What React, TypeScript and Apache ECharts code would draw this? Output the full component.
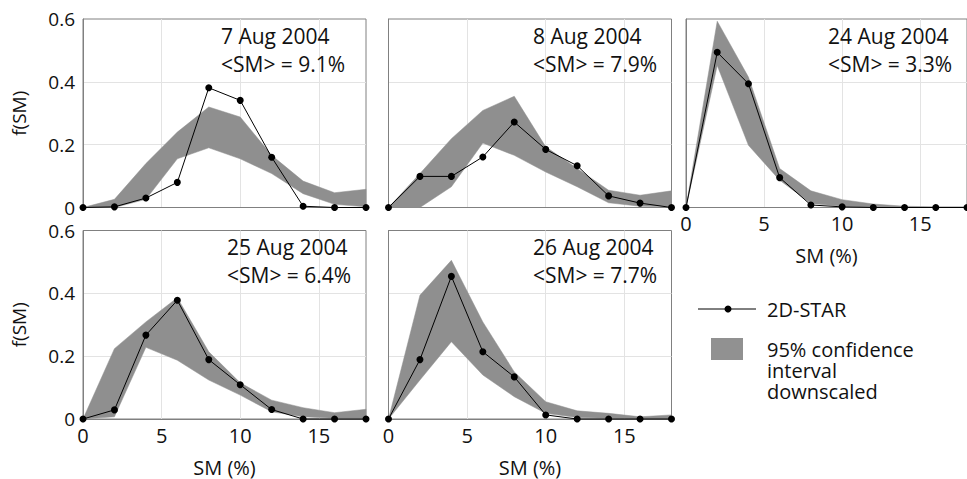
import React, { useEffect, useRef } from "react";
import * as echarts from "echarts";

// SM bin centres (%)
const smBins = [0, 2, 4, 6, 8, 10, 12, 14, 16, 18];

const panelDates = ["7 Aug 2004", "8 Aug 2004", "24 Aug 2004", "25 Aug 2004", "26 Aug 2004"];
const panelMeans = ["<SM> = 9.1%", "<SM> = 7.9%", "<SM> = 3.3%", "<SM> = 6.4%", "<SM> = 7.7%"];

// 2D-STAR f(SM)
const star7Aug = [0, 0.002, 0.03, 0.08, 0.381, 0.341, 0.16, 0.004, 0, 0];
const star8Aug = [0, 0.099, 0.099, 0.161, 0.272, 0.185, 0.133, 0.037, 0.014, 0];
const star24Aug = [0, 0.494, 0.394, 0.095, 0.008, 0.002, 0, 0, 0, 0];
const star25Aug = [0, 0.029, 0.267, 0.378, 0.189, 0.109, 0.03, 0, 0, 0];
const star26Aug = [0, 0.189, 0.454, 0.214, 0.134, 0.013, 0, 0, 0, 0];

// 95% confidence interval (downscaled): upper bounds
const upper7Aug = [0, 0.026, 0.14, 0.24, 0.32, 0.288, 0.166, 0.084, 0.047, 0.058];
const upper8Aug = [0, 0.108, 0.219, 0.309, 0.354, 0.193, 0.124, 0.055, 0.039, 0.053];
const upper24Aug = [0, 0.593, 0.415, 0.124, 0.053, 0.025, 0.011, 0.004, 0.002, 0.002];
const upper25Aug = [0, 0.224, 0.309, 0.386, 0.214, 0.115, 0.06, 0.036, 0.02, 0.031];
const upper26Aug = [0, 0.394, 0.505, 0.309, 0.15, 0.055, 0.026, 0.018, 0.007, 0.013];

// lower bounds
const lower7Aug = [0, 0, 0.026, 0.155, 0.19, 0.155, 0.108, 0.044, 0.01, 0.002];
const lower8Aug = [0, 0, 0.066, 0.205, 0.166, 0.113, 0.066, 0.015, 0.004, 0.002];
const lower24Aug = [0, 0.452, 0.198, 0.087, 0.013, 0.004, 0, 0, 0, 0];
const lower25Aug = [0, 0.007, 0.228, 0.187, 0.124, 0.076, 0.023, 0.007, 0.002, 0.002];
const lower26Aug = [0, 0.124, 0.246, 0.14, 0.071, 0.018, 0.005, 0.002, 0, 0];

const xTicks = { min: 0, max: 18, interval: 5 };
const yTicks = { min: 0, max: 0.6, interval: 0.2 };

const FONT = "'Open Sans', 'Noto Sans', sans-serif";
const TEXT = "#111";
const FRAME = "#808080";
const GRIDLINE = "#e3e3e3";
const BAND = "#8f8f8f";

const panels = [
  { star: star7Aug, upper: upper7Aug, lower: lower7Aug, left: 83, top: 19, yLabels: true, xLabels: false, textX: 221 },
  { star: star8Aug, upper: upper8Aug, lower: lower8Aug, left: 388.5, top: 19, yLabels: false, xLabels: false, textX: 533 },
  { star: star24Aug, upper: upper24Aug, lower: lower24Aug, left: 686, top: 19, yLabels: false, xLabels: true, textX: 828 },
  { star: star25Aug, upper: upper25Aug, lower: lower25Aug, left: 83, top: 230.5, yLabels: true, xLabels: true, textX: 227 },
  { star: star26Aug, upper: upper26Aug, lower: lower26Aug, left: 388.5, top: 230.5, yLabels: false, xLabels: true, textX: 533 },
];

const PW = 283;
const PH = 188.5;

export default function App() {
  const ref = useRef<HTMLDivElement>(null);
  useEffect(() => {
    if (!ref.current) return;
    const chart = echarts.init(ref.current, null, { renderer: "svg" });
    const grid: any[] = [];
    const xAxis: any[] = [];
    const yAxis: any[] = [];
    const series: any[] = [];
    const graphic: any[] = [];

    panels.forEach((p, i) => {
      grid.push({
        left: p.left,
        top: p.top,
        width: PW,
        height: PH,
        show: true,
        borderColor: FRAME,
        borderWidth: 1,
        backgroundColor: "transparent",
      });
      xAxis.push({
        type: "value",
        gridIndex: i,
        min: xTicks.min,
        max: xTicks.max,
        interval: xTicks.interval,
        name: p.xLabels ? "SM (%)" : "",
        nameLocation: "middle",
        nameGap: 38,
        nameTextStyle: { fontFamily: FONT, fontSize: 20, color: TEXT },
        axisLine: { show: true, lineStyle: { color: FRAME, width: 1 } },
        axisTick: { show: false },
        axisLabel: {
          show: p.xLabels,
          showMaxLabel: false,
          margin: 6,
          fontFamily: FONT,
          fontSize: 20,
          color: TEXT,
        },
        splitLine: { show: true, showMinLine: false, showMaxLine: false, lineStyle: { color: GRIDLINE, width: 1 } },
      });
      yAxis.push({
        type: "value",
        gridIndex: i,
        min: yTicks.min,
        max: yTicks.max,
        interval: yTicks.interval,
        name: p.yLabels ? "f(SM)" : "",
        nameLocation: "middle",
        nameRotate: 90,
        nameGap: 55,
        nameTextStyle: { fontFamily: FONT, fontSize: 19, color: TEXT },
        axisLine: { show: true, lineStyle: { color: FRAME, width: 1 } },
        axisTick: { show: false },
        axisLabel: {
          show: p.yLabels,
          margin: 8,
          fontFamily: FONT,
          fontSize: 19,
          color: TEXT,
          formatter: (v: number) => (v === 0 ? "0" : v.toFixed(1)),
        },
        splitLine: { show: true, showMinLine: false, showMaxLine: false, lineStyle: { color: GRIDLINE, width: 1 } },
      });

      const lower = p.lower;
      const upper = p.upper;
      series.push({
        type: "custom",
        name: "95% confidence interval downscaled",
        xAxisIndex: i,
        yAxisIndex: i,
        data: smBins.map((x, k) => [x, lower[k], upper[k]]),
        encode: { x: 0, y: [1, 2] },
        silent: true,
        z: 2,
        renderItem: (params: any, api: any) => {
          if (params.dataIndex !== 0) return null;
          const top = smBins.map((x, k) => api.coord([x, upper[k]]));
          const bottom = smBins.map((x, k) => api.coord([x, lower[k]])).reverse();
          return {
            type: "polygon",
            shape: { points: top.concat(bottom) },
            style: { fill: BAND, stroke: BAND, lineWidth: 0.5 },
          };
        },
      });
      series.push({
        type: "line",
        name: "2D-STAR",
        xAxisIndex: i,
        yAxisIndex: i,
        data: smBins.map((x, k) => [x, p.star[k]]),
        symbol: "circle",
        symbolSize: 7,
        clip: false,
        lineStyle: { color: "#000", width: 1 },
        itemStyle: { color: "#000" },
        z: 5,
      });

      const line1Y = p.top + 19;
      graphic.push({
        type: "text",
        left: p.textX,
        top: line1Y - 13,
        style: { text: panelDates[i], fontFamily: FONT, fontSize: 21, fill: TEXT },
        z: 10,
      });
      graphic.push({
        type: "text",
        left: p.textX,
        top: line1Y + 15,
        style: { text: panelMeans[i], fontFamily: FONT, fontSize: 21, fill: TEXT },
        z: 10,
      });
    });

    // legend
    graphic.push({
      type: "line",
      shape: { x1: 698, y1: 309, x2: 756, y2: 309 },
      style: { stroke: "#000", lineWidth: 1 },
    });
    graphic.push({
      type: "circle",
      shape: { cx: 728, cy: 309, r: 3.5 },
      style: { fill: "#000" },
    });
    graphic.push({
      type: "text",
      x: 767,
      y: 309,
      style: { text: "2D-STAR", fontFamily: FONT, fontSize: 20, fill: TEXT, verticalAlign: "middle" },
    });
    graphic.push({
      type: "rect",
      shape: { x: 711, y: 338, width: 32, height: 22 },
      style: { fill: "#919191" },
    });
    graphic.push({
      type: "text",
      x: 767,
      y: 339,
      style: {
        text: "95% confidence\ninterval\ndownscaled",
        fontFamily: FONT,
        fontSize: 20,
        lineHeight: 21,
        fill: TEXT,
        verticalAlign: "top",
      },
    });

    chart.setOption({
      animation: false,
      backgroundColor: "#fff",
      grid,
      xAxis,
      yAxis,
      series,
      graphic,
    });
    return () => chart.dispose();
  }, []);

  return (
    <div
      ref={ref}
      style={{ position: "fixed", left: 0, top: 0, width: 967, height: 479 }}
    />
  );
}
